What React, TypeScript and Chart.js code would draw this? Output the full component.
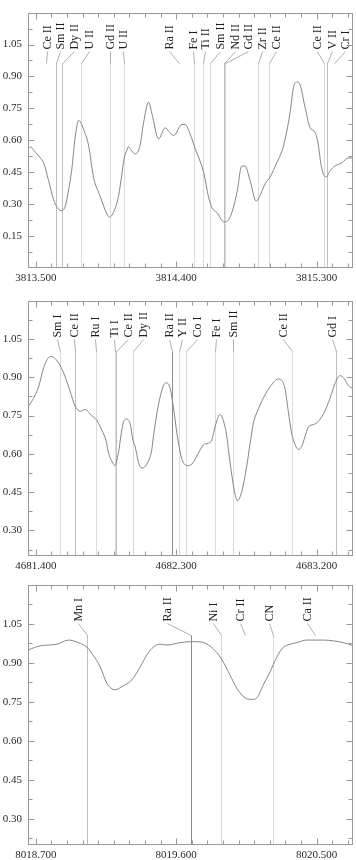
import React, { useEffect, useRef } from 'react';
import { Chart, registerables } from 'chart.js';

Chart.register(...registerables);

// ---------- Panel 1 ----------
const p1Start = 3813.5;
const p1Wave = [
  3813.452, 3813.465, 3813.486, 3813.529, 3813.550, 3813.582, 3813.614, 3813.646, 3813.668, 3813.689,
  3813.710, 3813.732, 3813.747, 3813.764, 3813.774, 3813.785, 3813.806, 3813.838, 3813.870, 3813.913,
  3813.956, 3813.973, 3813.998, 3814.030, 3814.052, 3814.067, 3814.084, 3814.094, 3814.115, 3814.137,
  3814.169, 3814.191, 3814.223, 3814.244, 3814.287, 3814.330, 3814.351, 3814.383, 3814.437, 3814.458,
  3814.490, 3814.522, 3814.554, 3814.579, 3814.607, 3814.629, 3814.661, 3814.708, 3814.746, 3814.789,
  3814.821, 3814.842, 3814.874, 3814.913, 3814.949, 3814.970, 3815.002, 3815.045, 3815.077, 3815.087,
  3815.130, 3815.152, 3815.173, 3815.194, 3815.226, 3815.259, 3815.291, 3815.312, 3815.330, 3815.361,
  3815.386, 3815.418, 3815.462, 3815.504, 3815.536,
];
const p1Flux = [
  0.560, 0.569, 0.554, 0.517, 0.494, 0.411, 0.321, 0.276, 0.269, 0.291,
  0.366, 0.470, 0.580, 0.670, 0.694, 0.688, 0.652, 0.577, 0.427, 0.336,
  0.254, 0.239, 0.261, 0.336, 0.441, 0.517, 0.554, 0.569, 0.550, 0.536,
  0.577, 0.682, 0.779, 0.727, 0.607, 0.659, 0.644, 0.622, 0.674, 0.674,
  0.629, 0.561, 0.501, 0.441, 0.336, 0.284, 0.261, 0.216, 0.239, 0.351,
  0.479, 0.479, 0.411, 0.314, 0.359, 0.396, 0.427, 0.494, 0.546, 0.569,
  0.727, 0.847, 0.874, 0.862, 0.757, 0.659, 0.637, 0.577, 0.480, 0.427,
  0.456, 0.479, 0.494, 0.517, 0.517,
];
const p1Ions = ['Ce II', 'Sm II', 'Dy II', 'U II', 'Gd II', 'U II', 'Ra II', 'Fe I', 'Ti II', 'Sm II', 'Nd II', 'Gd II', 'Zr II', 'Ce II', 'Ce II', 'V II', 'Cr I'];
const p1LineWave = [3813.567, 3813.631, 3813.670, 3813.787, 3813.973, 3814.065, 3814.419, 3814.517, 3814.575, 3814.618, 3814.708, 3814.716, 3814.927, 3814.998, 3815.348, 3815.369, 3815.412];
const p1LabelWave = [3813.572, 3813.657, 3813.747, 3813.838, 3813.977, 3814.062, 3814.351, 3814.507, 3814.586, 3814.682, 3814.778, 3814.863, 3814.949, 3815.041, 3815.305, 3815.398, 3815.483];
const p1LineStyle = ['stub', 'dark', 'dark', 'light', 'light', 'light', 'stub', 'light', 'light', 'light', 'dark', 'light', 'light', 'light', 'light', 'dark', 'stub'];
const p1XTicks = [3813.5, 3814.4, 3815.3];
const p1YTicks = [0.15, 0.30, 0.45, 0.60, 0.75, 0.90, 1.05];

// ---------- Panel 2 ----------
const p2Start = 4681.4;
const p2Wave = [
  4681.354, 4681.386, 4681.418, 4681.450, 4681.493, 4681.514, 4681.546, 4681.578, 4681.621, 4681.653,
  4681.685, 4681.717, 4681.749, 4681.792, 4681.824, 4681.852, 4681.866, 4681.898, 4681.905, 4681.930,
  4681.948, 4681.962, 4681.984, 4682.005, 4682.023, 4682.037, 4682.059, 4682.080, 4682.112, 4682.144,
  4682.154, 4682.187, 4682.219, 4682.240, 4682.262, 4682.283, 4682.305, 4682.315, 4682.337, 4682.369,
  4682.401, 4682.433, 4682.475, 4682.507, 4682.529, 4682.539, 4682.561, 4682.582, 4682.603, 4682.625,
  4682.635, 4682.657, 4682.678, 4682.693, 4682.721, 4682.753, 4682.774, 4682.795, 4682.817, 4682.859,
  4682.902, 4682.955, 4682.977, 4682.998, 4683.019, 4683.041, 4683.052, 4683.084, 4683.105, 4683.126,
  4683.148, 4683.191, 4683.244, 4683.287, 4683.318, 4683.350, 4683.372, 4683.404, 4683.436,
];
const p2Flux = [
  0.786, 0.818, 0.862, 0.937, 0.981, 0.978, 0.956, 0.918, 0.843, 0.786,
  0.767, 0.774, 0.755, 0.730, 0.692, 0.648, 0.604, 0.560, 0.554, 0.604,
  0.680, 0.724, 0.736, 0.717, 0.654, 0.629, 0.566, 0.544, 0.560, 0.617,
  0.667, 0.793, 0.868, 0.878, 0.855, 0.780, 0.680, 0.642, 0.579, 0.554,
  0.560, 0.592, 0.635, 0.642, 0.654, 0.679, 0.730, 0.755, 0.730, 0.667,
  0.617, 0.516, 0.441, 0.416, 0.453, 0.554, 0.640, 0.720, 0.761, 0.818,
  0.862, 0.893, 0.887, 0.855, 0.767, 0.679, 0.654, 0.617, 0.629, 0.667,
  0.705, 0.717, 0.755, 0.818, 0.874, 0.906, 0.899, 0.868, 0.855,
];
const p2Ions = ['Sm I', 'Ce II', 'Ru I', 'Ti I', 'Ce II', 'Dy II', 'Ra II', 'Y II', 'Co I', 'Fe I', 'Sm II', 'Ce II', 'Gd I'];
const p2LineWave = [4681.552, 4681.650, 4681.786, 4681.905, 4681.916, 4682.023, 4682.274, 4682.321, 4682.364, 4682.550, 4682.667, 4683.045, 4683.325];
const p2LabelWave = [4681.536, 4681.647, 4681.777, 4681.903, 4681.994, 4682.087, 4682.257, 4682.340, 4682.433, 4682.556, 4682.667, 4682.984, 4683.298];
const p2LineStyle = ['light', 'dark', 'light', 'light', 'dark', 'light', 'solid', 'light', 'light', 'light', 'light', 'light', 'dark'];
const p2XTicks = [4681.4, 4682.3, 4683.2];
const p2YTicks = [0.30, 0.45, 0.60, 0.75, 0.90, 1.05];

// ---------- Panel 3 ----------
const p3Start = 8018.7;
const p3Wave = [
  8018.654, 8018.729, 8018.836, 8018.910, 8018.974, 8019.028, 8019.070, 8019.113, 8019.156, 8019.209,
  8019.252, 8019.316, 8019.369, 8019.423, 8019.466, 8019.498, 8019.540, 8019.626, 8019.690, 8019.754,
  8019.807, 8019.850, 8019.893, 8019.946, 8019.989, 8020.042, 8020.085, 8020.117, 8020.159, 8020.202,
  8020.245, 8020.287, 8020.330, 8020.373, 8020.437, 8020.544, 8020.608, 8020.672, 8020.736,
];
const p3Flux = [
  0.950, 0.965, 0.971, 0.987, 0.977, 0.959, 0.927, 0.884, 0.821, 0.796,
  0.808, 0.834, 0.884, 0.940, 0.965, 0.971, 0.968, 0.977, 0.981, 0.980,
  0.968, 0.946, 0.912, 0.852, 0.802, 0.765, 0.759, 0.765, 0.815, 0.865,
  0.921, 0.959, 0.971, 0.977, 0.987, 0.987, 0.984, 0.977, 0.965,
];
const p3Ions = ['Mn I', 'Ra II', 'Ni I', 'Cr II', 'CN', 'Ca II'];
const p3LineWave = [8019.028, 8019.692, 8019.890, 8020.042, 8020.223, 8020.490];
const p3LabelWave = [8018.968, 8019.540, 8019.839, 8020.010, 8020.198, 8020.437];
const p3LineStyle = ['dark', 'solid', 'light', 'stub', 'light', 'stub'];
const p3XTicks = [8018.7, 8019.6, 8020.5];
const p3YTicks = [0.30, 0.45, 0.60, 0.75, 0.90, 1.05];

const FONT = '"Liberation Serif", "Times New Roman", serif';
const FRAME = '#999999';

type PanelProps = {
  top: number;
  height: number;
  padTop: number;
  axisH: number;
  start: number;
  yMin: number;
  wave: number[];
  flux: number[];
  ions: string[];
  lineWave: number[];
  labelWave: number[];
  lineStyle: string[];
  xTicks: number[];
  yTicks: number[];
};

function Panel(p: PanelProps) {
  const ref = useRef<HTMLCanvasElement>(null);
  useEffect(() => {
    const canvas = ref.current!;
    const xMin = p.start - 0.05;
    const xMax = p.start + 2.034;
    const yMax = 1.2;

    const idPlugin = {
      id: 'lineIds',
      beforeDatasetsDraw(chart: any) {
        const { ctx, chartArea: a, scales } = chart;
        const xs = scales.x;
        ctx.save();
        ctx.lineWidth = 1;
        p.ions.forEach((name, i) => {
          const lx = Math.round(xs.getPixelForValue(p.labelWave[i])) + 0.5;
          const vx = Math.round(xs.getPixelForValue(p.lineWave[i])) + 0.5;
          const y0 = a.top + 39;
          const y1 = a.top + 51;
          ctx.setLineDash([]);
          ctx.strokeStyle = '#b0b0b0';
          ctx.beginPath();
          ctx.moveTo(lx, y0);
          ctx.lineTo(vx, y1);
          ctx.stroke();
          const st = p.lineStyle[i];
          if (st !== 'stub') {
            ctx.strokeStyle = st === 'dark' ? '#808080' : st === 'solid' ? '#8c8c8c' : '#b8b8b8';
            ctx.setLineDash(st === 'solid' ? [] : [1, 1]);
            ctx.beginPath();
            ctx.moveTo(vx, y1);
            ctx.lineTo(vx, a.bottom);
            ctx.stroke();
          }
          ctx.setLineDash([]);
          ctx.save();
          ctx.translate(lx, a.top + 37);
          ctx.rotate(-Math.PI / 2);
          ctx.fillStyle = '#1e1e1e';
          ctx.font = '12px ' + FONT;
          ctx.textAlign = 'left';
          ctx.textBaseline = 'middle';
          ctx.fillText(name, 0, 0);
          ctx.restore();
        });
        ctx.restore();
      },
      afterDraw(chart: any) {
        const { ctx, chartArea: a, scales } = chart;
        const xs = scales.x;
        const ys = scales.y;
        ctx.save();
        ctx.strokeStyle = FRAME;
        ctx.lineWidth = 1;
        ctx.setLineDash([]);
        const L = Math.round(a.left) + 0.5;
        const R = Math.round(a.right) - 0.5;
        const T = Math.round(a.top) + 0.5;
        const B = Math.round(a.bottom) - 0.5;
        ctx.strokeRect(L, T, R - L, B - T);
        ctx.beginPath();
        const k0 = Math.ceil(xMin * 10 - 1e-6);
        const k1 = Math.floor(xMax * 10 + 1e-6);
        for (let k = k0; k <= k1; k++) {
          const v = k / 10;
          const major = p.xTicks.some((t) => Math.abs(t - v) < 1e-6);
          const len = major ? 6 : 4;
          const x = Math.round(xs.getPixelForValue(v)) + 0.5;
          ctx.moveTo(x, B);
          ctx.lineTo(x, B - len);
          ctx.moveTo(x, T);
          ctx.lineTo(x, T + len);
        }
        const j0 = Math.ceil(p.yMin / 0.075 - 1e-6);
        const j1 = Math.floor(yMax / 0.075 + 1e-6);
        for (let j = j0; j <= j1; j++) {
          const v = j * 0.075;
          if (v <= p.yMin + 1e-6 || v >= yMax - 1e-6) continue;
          const major = j % 2 === 0;
          const len = major ? 6 : 4;
          const y = Math.round(ys.getPixelForValue(v)) + 0.5;
          ctx.moveTo(L, y);
          ctx.lineTo(L + len, y);
          ctx.moveTo(R, y);
          ctx.lineTo(R - len, y);
        }
        ctx.stroke();
        ctx.restore();
      },
    };

    const data = p.wave.map((w, i) => ({ x: w, y: p.flux[i] }));

    const chart = new Chart(canvas, {
      type: 'line',
      data: {
        datasets: [
          {
            data,
            borderColor: '#858585',
            borderWidth: 1,
            pointRadius: 0,
            fill: false,
            cubicInterpolationMode: 'monotone',
          } as any,
        ],
      },
      options: {
        animation: false,
        responsive: false,
        devicePixelRatio: 1,
        layout: { padding: { top: p.padTop, right: 3, left: 0, bottom: 0 } },
        plugins: { legend: { display: false }, tooltip: { enabled: false } },
        scales: {
          x: {
            type: 'linear',
            min: xMin,
            max: xMax,
            afterBuildTicks: (s: any) => {
              s.ticks = p.xTicks.map((v) => ({ value: v }));
            },
            afterFit: (s: any) => {
              s.height = p.axisH;
            },
            ticks: {
              autoSkip: false,
              maxRotation: 0,
              padding: 4,
              color: '#2a2a2a',
              font: { family: FONT, size: 11 },
              callback: (v: any) => Number(v).toFixed(3),
            },
            grid: { display: false, drawTicks: false },
            border: { display: false },
          },
          y: {
            type: 'linear',
            min: p.yMin,
            max: yMax,
            afterBuildTicks: (s: any) => {
              s.ticks = p.yTicks.map((v) => ({ value: v }));
            },
            afterFit: (s: any) => {
              s.width = 28;
            },
            ticks: {
              autoSkip: false,
              padding: 6,
              color: '#2a2a2a',
              font: { family: FONT, size: 11 },
              callback: (v: any) => Number(v).toFixed(2),
            },
            grid: { display: false, drawTicks: false },
            border: { display: false },
          },
        },
      } as any,
      plugins: [idPlugin as any],
    });
    return () => chart.destroy();
  }, []);
  return (
    <canvas
      ref={ref}
      width={356}
      height={p.height}
      style={{ position: 'absolute', left: 0, top: p.top, display: 'block' }}
    />
  );
}

export default function App() {
  return (
    <div style={{ position: 'absolute', left: 0, top: 0, width: 356, height: 860, background: '#fff' }}>
      <Panel
        top={0}
        height={288}
        padTop={2}
        axisH={20}
        start={p1Start}
        yMin={0}
        wave={p1Wave}
        flux={p1Flux}
        ions={p1Ions}
        lineWave={p1LineWave}
        labelWave={p1LabelWave}
        lineStyle={p1LineStyle}
        xTicks={p1XTicks}
        yTicks={p1YTicks}
      />
      <Panel
        top={288}
        height={284}
        padTop={4}
        axisH={16}
        start={p2Start}
        yMin={0.2}
        wave={p2Wave}
        flux={p2Flux}
        ions={p2Ions}
        lineWave={p2LineWave}
        labelWave={p2LabelWave}
        lineStyle={p2LineStyle}
        xTicks={p2XTicks}
        yTicks={p2YTicks}
      />
      <Panel
        top={572}
        height={288}
        padTop={6}
        axisH={15}
        start={p3Start}
        yMin={0.2}
        wave={p3Wave}
        flux={p3Flux}
        ions={p3Ions}
        lineWave={p3LineWave}
        labelWave={p3LabelWave}
        lineStyle={p3LineStyle}
        xTicks={p3XTicks}
        yTicks={p3YTicks}
      />
    </div>
  );
}
